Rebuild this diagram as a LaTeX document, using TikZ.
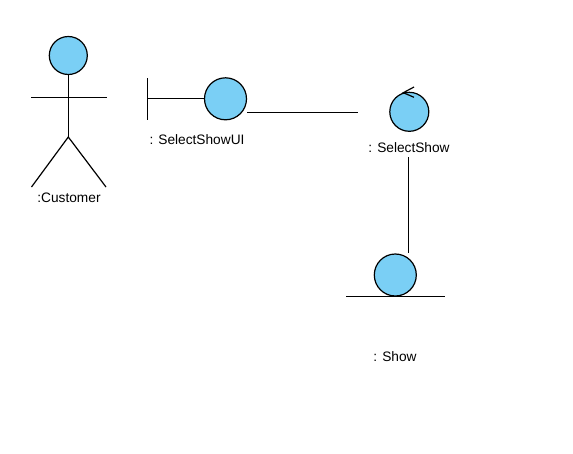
\documentclass[tikz,border=0pt]{standalone}
\usepackage{fontspec}
\setmainfont{Liberation Sans}
\definecolor{lblue}{RGB}{122,207,245}
\usetikzlibrary{positioning}
\begin{document}
\begin{tikzpicture}[x=1pt,y=-1pt,line width=1.2pt,c/.style={circle,draw,fill=lblue,inner sep=0pt},t/.style={font=\fontsize{13.7}{15}\selectfont,inner sep=0pt}]
\useasboundingbox (0,0) rectangle (573,453);
% actor
\node[c,minimum size=38pt] (head) at (68.3,55.5) {};
\coordinate (hip) at (68.3,137);\coordinate (al) at (31,97.3);\coordinate (ar) at (106.5,97.3);
\coordinate (ll) at (31.5,187);\coordinate (lr) at (106,187);
\draw (head)--(hip);\draw (al)--(ar);\draw (ll)--(hip)--(lr);
\node[t] (cust) at (69,198) {:Customer};
% boundary
\node[c,minimum size=42pt] (ui) at (225.5,98.8) {};
\coordinate (bt) at (147.3,78);\coordinate (bb) at (147.3,119.5);\coordinate (bm) at (147.3,98.8);
\draw (bt)--(bb);\draw (bm)--(ui);
\node[t] (uil) at (197,139.5) {: SelectShowUI};
% control
\node[c,minimum size=39pt] (sel) at (409.3,111.8) {};
\coordinate (a1) at (414,87);\coordinate (a2) at (403.3,92.7);\coordinate (a3) at (414,97.3);
\draw (a1)--(a2)--(a3);
\node[t] (sell) at (409,147.5) {: SelectShow};
% entity
\node[c,minimum size=42pt] (show) at (395.3,275) {};
\coordinate (el) at (346,296.3);\coordinate (er) at (445,296.3);
\draw (el)--(er);
\node[t] (showl) at (395,356.5) {: Show};
% links
\coordinate (p1) at (247,112.5);\coordinate (p2) at (358,112.5);\draw (p1)--(p2);
\coordinate (q1) at (408.5,157);\coordinate (q2) at (408.5,253);\draw (q1)--(q2);
\end{tikzpicture}
\end{document}
